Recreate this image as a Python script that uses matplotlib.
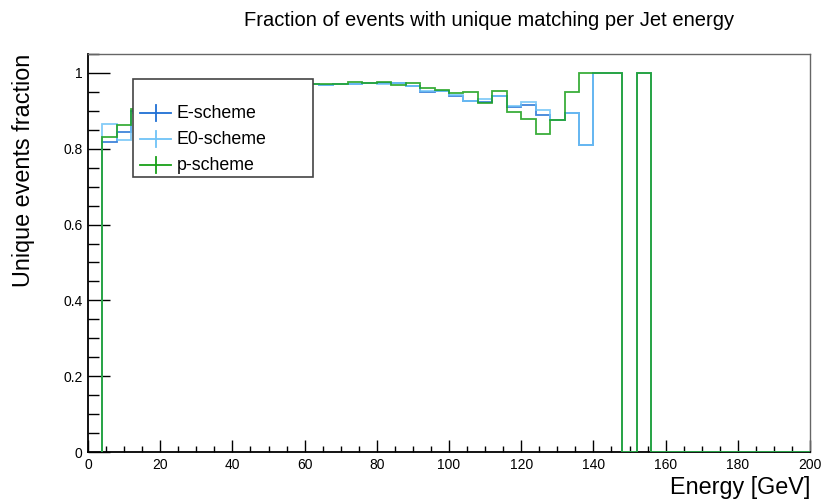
import numpy as np
import matplotlib
matplotlib.use("Agg")
import matplotlib.pyplot as plt
from matplotlib.patches import Rectangle
from matplotlib.lines import Line2D

plt.rcParams['font.family'] = ['Liberation Sans', 'DejaVu Sans']

# Histogram binning: 4 GeV bins from 4 to 200 GeV
bin_lo = 4
bin_width = 4
n_bins = 49
edges = bin_lo + bin_width * np.arange(n_bins + 1)

e_scheme = [0.818, 0.845, 0.900, 0.920, 0.930, 0.940, 0.945, 0.950, 0.955, 0.960,
            0.962, 0.965, 0.967, 0.969, 0.970, 0.968, 0.971, 0.971, 0.973, 0.973,
            0.974, 0.965, 0.950, 0.953, 0.939, 0.926, 0.923, 0.938, 0.911, 0.915,
            0.888, 0.875, 0.894, 0.811, 1.0, 1.0, 0.0, 1.0]
e0_scheme = [0.866, 0.824, 0.895, 0.918, 0.930, 0.938, 0.946, 0.950, 0.955, 0.958,
             0.962, 0.964, 0.967, 0.968, 0.970, 0.968, 0.971, 0.972, 0.973, 0.972,
             0.973, 0.966, 0.952, 0.953, 0.941, 0.925, 0.930, 0.940, 0.912, 0.924,
             0.902, 0.875, 0.894, 0.811, 1.0, 1.0, 0.0, 1.0]
p_scheme = [0.831, 0.862, 0.905, 0.925, 0.935, 0.943, 0.950, 0.953, 0.957, 0.960,
            0.963, 0.966, 0.968, 0.969, 0.971, 0.972, 0.971, 0.976, 0.973, 0.975,
            0.968, 0.974, 0.960, 0.9555, 0.947, 0.949, 0.920, 0.952, 0.896, 0.878,
            0.838, 0.875, 0.951, 1.0, 1.0, 1.0, 0.0, 1.0]

series_names = ["E-scheme", "E0-scheme", "p-scheme"]
series_colors = ["#1f6fd4", "#6ec3f7", "#18a018"]
series_values = [e_scheme, e0_scheme, p_scheme]

x_ticks = [0, 20, 40, 60, 80, 100, 120, 140, 160, 180, 200]
y_ticks = [0, 0.2, 0.4, 0.6, 0.8, 1.0]
y_tick_labels = ["0", "0.2", "0.4", "0.6", "0.8", "1"]

W, H = 824, 504
fig = plt.figure(figsize=(W / 100, H / 100), dpi=100)
L, R, T, B = 88, 810, 54, 452
ax = fig.add_axes([L / W, 1 - B / H, (R - L) / W, (B - T) / H])

for name, col, vals in zip(series_names, series_colors, series_values):
    v = np.zeros(n_bins)
    v[:len(vals)] = vals
    ax.stairs(v, edges, baseline=0, fill=False, color=col, lw=1.3,
              alpha=0.85, zorder=3)

ax.set_xlim(0, 200)
ax.set_ylim(0, 1.05)
ax.set_xticks(x_ticks)
ax.set_xticklabels([str(t) for t in x_ticks])
ax.set_xticks(np.arange(0, 201, 5), minor=True)
ax.set_yticks(y_ticks)
ax.set_yticklabels(y_tick_labels)
ax.set_yticks(np.arange(0, 1.051, 0.05), minor=True)

ax.tick_params(axis='x', which='major', direction='in', length=8.6, width=1.0,
               labelsize=10, pad=4, top=False)
ax.tick_params(axis='x', which='minor', direction='in', length=4.3, width=1.0,
               top=False)
ax.tick_params(axis='y', which='major', direction='in', length=15.6, width=1.0,
               labelsize=10, pad=4, right=False)
ax.tick_params(axis='y', which='minor', direction='in', length=7.8, width=1.0,
               right=False)

for side in ("left", "bottom"):
    ax.spines[side].set_color("black")
    ax.spines[side].set_linewidth(1.3)
for side in ("top", "right"):
    ax.spines[side].set_color("#666666")
    ax.spines[side].set_linewidth(1.0)

ax.set_xlabel("Energy [GeV]", fontsize=16.8, ha='right', x=1.0, labelpad=3)
ax.set_ylabel("Unique events fraction", fontsize=16.8, ha='right', y=1.0, labelpad=20)

fig.text(489 / W, 1 - 20 / H, "Fraction of events with unique matching per Jet energy",
         ha='center', va='center', fontsize=14.5)

# Legend box drawn in figure pixel space
def fx(px):
    return px / W

def fy(py):
    return 1 - py / H

box = Rectangle((fx(133), fy(177)), fx(313) - fx(133), fy(79) - fy(177),
                transform=fig.transFigure, facecolor="white", edgecolor="#444444",
                lw=1.2, zorder=5)
fig.patches.append(box)
for i, (name, col) in enumerate(zip(series_names, series_colors)):
    yy = 113 + 26 * i
    fig.lines.append(Line2D([fx(140), fx(171)], [fy(yy), fy(yy)], color=col, lw=1.3,
                            transform=fig.transFigure, zorder=6))
    fig.lines.append(Line2D([fx(155.5), fx(155.5)], [fy(yy - 8), fy(yy + 8)], color=col,
                            lw=1.3, transform=fig.transFigure, zorder=6))
    fig.text(fx(177), fy(yy), name, ha='left', va='center', fontsize=12.8, zorder=7)

fig.savefig("out.png", dpi=100)
